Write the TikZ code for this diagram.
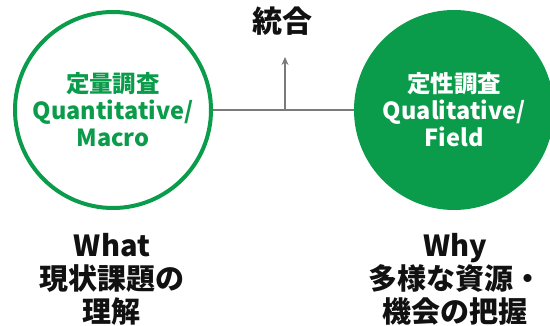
\documentclass[tikz,border=0pt]{standalone}
\usepackage{fontspec}
\setmainfont{Noto Sans CJK JP}
\usepackage{tikz}
\usetikzlibrary{positioning,arrows.meta}
\definecolor{leaf}    {HTML}{0A9C4A}
\definecolor{ink}     {HTML}{111111}
\definecolor{softink} {HTML}{7A7A7A}
\tikzset{
  >=Stealth,
  % --- nodes
  ring/.style  = {circle, draw=leaf, line width=4pt, fill=white, minimum size=196pt,
                  inner sep=0pt, align=center, text=leaf,
                  font=\fontsize{23.5}{27}\selectfont\bfseries},
  disc/.style  = {ring, fill=leaf, text=white},
  caption/.style = {align=center, text=ink, font=\fontsize{29}{33}\selectfont\bfseries},
  % --- edges
  e/.style     = {draw=softink, line width=1.8pt},
  eup/.style   = {e, -{Stealth[length=8pt,width=7pt]}},
}
\begin{document}
\begin{tikzpicture}[x=1pt,y=-1pt]
  \useasboundingbox (0,0) rectangle (550,326);
  \node[ring] (quant) at (113,110) {定量調査\\Quantitative/\\Macro};
  \node[disc] (qual)  at (454,110) {定性調査\\Qualitative/\\Field};
  \coordinate (mid) at (285,110);
  \coordinate (tip) at (285,57);
  \node[caption, font=\fontsize{30}{33}\selectfont\bfseries] (merge) at (282.5,21.5) {統合};
  \node[caption] (what) at (112,279) {What\\現状課題の\\理解};
  \node[caption] (why)  at (455,279) {Why\\多様な資源・\\機会の把握};
  \draw[e] (quant) -- (qual);
  \draw[eup] (mid) -- (tip);
\end{tikzpicture}
\end{document}
